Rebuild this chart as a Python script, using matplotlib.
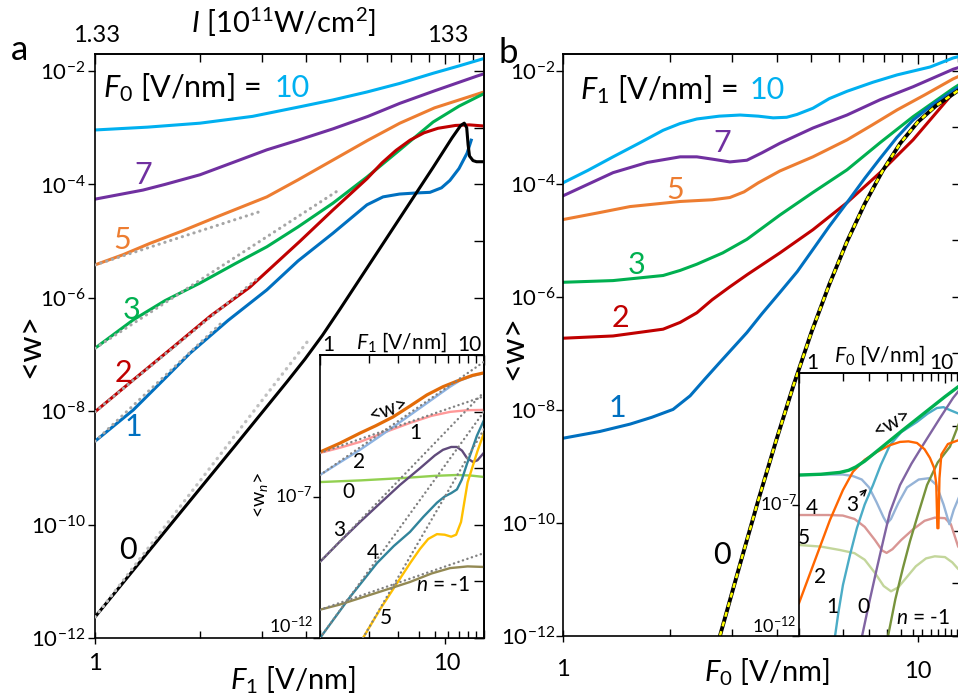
import numpy as np
import matplotlib
matplotlib.use("Agg")
import matplotlib.pyplot as plt
from matplotlib.ticker import FixedLocator, NullLocator, NullFormatter

plt.rcParams['font.family'] = ['Lato', 'DejaVu Sans']
plt.rcParams['mathtext.fontset'] = 'custom'
plt.rcParams['mathtext.rm'] = 'Lato'
plt.rcParams['mathtext.it'] = 'Lato:italic'
plt.rcParams['mathtext.bf'] = 'Lato:bold'

W, H = 958, 700

# ---------------- panel a: <w> vs F1, one curve per F0 (log10 values) ----------
a10_x = [0, 0.15, 0.3, 0.45, 0.586, 0.68, 0.777, 0.87, 0.966, 1.04, 1.111]
a10_y = [-3.04, -2.99, -2.92, -2.8, -2.63, -2.51, -2.37, -2.22, -2.04, -1.91, -1.78]
a7_x = [0, 0.06, 0.137, 0.2, 0.3, 0.4, 0.491, 0.58, 0.68, 0.78, 0.871, 0.97, 1.091, 1.111]
a7_y = [-4.26, -4.19, -4.10, -4.0, -3.83, -3.6, -3.39, -3.22, -3.02, -2.8, -2.57, -2.35, -2.09, -2.05]
a5_x = [0, 0.08, 0.157, 0.25, 0.349, 0.491, 0.58, 0.68, 0.78, 0.871, 0.97, 1.091, 1.111]
a5_y = [-5.42, -5.24, -5.04, -4.82, -4.57, -4.22, -3.92, -3.57, -3.22, -2.92, -2.65, -2.41, -2.37]
a3_x = [0, 0.109, 0.2, 0.3, 0.4, 0.491, 0.58, 0.68, 0.777, 0.871, 0.966, 1.04, 1.111]
a3_y = [-6.89, -6.39, -6.05, -5.74, -5.40, -5.10, -4.75, -4.33, -3.87, -3.39, -2.90, -2.62, -2.40]
a2_x = [0, 0.109, 0.223, 0.33, 0.443, 0.586, 0.68, 0.777, 0.82, 0.86, 0.9, 0.94, 0.98, 1.03,
        1.07, 1.111]
a2_y = [-8.01, -7.45, -6.87, -6.32, -5.81, -5.0, -4.45, -3.90, -3.62, -3.40, -3.22, -3.09, -3.01,
        -2.96, -2.95, -2.97]
a1_x = [0, 0.109, 0.2, 0.271, 0.38, 0.491, 0.58, 0.68, 0.777, 0.823, 0.87, 0.92, 0.957, 0.99,
        1.014, 1.04, 1.063, 1.075]
a1_y = [-8.53, -7.98, -7.42, -6.98, -6.4, -5.86, -5.35, -4.86, -4.36, -4.22, -4.17, -4.15, -4.14,
        -4.06, -3.93, -3.72, -3.45, -3.22]
a0_x = [0, 0.2, 0.4, 0.5, 0.55, 0.6, 0.65, 0.7, 0.75, 0.8, 0.9, 0.966, 1.02, 1.045, 1.055, 1.062,
        1.066, 1.07, 1.08, 1.09, 1.1, 1.111]
a0_y = [-11.63, -10.12, -8.61, -7.85, -7.47, -7.08, -6.66, -6.2, -5.73, -5.26, -4.32, -3.70, -3.18,
        -2.96, -2.92, -3.0, -3.3, -3.5, -3.58, -3.6, -3.6, -3.6]
# perturbative asymptotes (gray dotted), end points
a_dot_x = [[0, 0.466], [0, 0.694], [0, 0.466], [0, 0.36]]
a_dot_y = [[-5.42, -4.49], [-6.89, -4.11], [-8.01, -5.65], [-8.53, -6.45]]
a_dot0_x = [0, 0.606]
a_dot0_y = [-11.63, -6.78]

# ---------------- panel b: <w> vs F0, one curve per F1 ----------------------------
b10_x = [0, 0.07, 0.141, 0.217, 0.282, 0.33, 0.377, 0.44, 0.499, 0.55, 0.592, 0.63, 0.659,
         0.704, 0.75, 0.8, 0.873, 0.941, 1.034, 1.099, 1.124]
b10_y = [-3.98, -3.76, -3.52, -3.27, -3.05, -2.93, -2.85, -2.80, -2.78, -2.80, -2.83, -2.82,
         -2.77, -2.66, -2.49, -2.36, -2.20, -2.07, -1.93, -1.77, -1.73]
b7_x = [0, 0.141, 0.237, 0.33, 0.377, 0.42, 0.47, 0.518, 0.56, 0.611, 0.704, 0.8, 0.893, 0.986,
        1.099, 1.124]
b7_y = [-4.21, -3.80, -3.62, -3.52, -3.52, -3.56, -3.61, -3.58, -3.45, -3.28, -3.01, -2.78, -2.51,
        -2.28, -1.97, -1.92]
b5_x = [0, 0.1, 0.189, 0.33, 0.42, 0.47, 0.51, 0.55, 0.611, 0.704, 0.8, 0.87, 0.941, 1.02, 1.099, 1.124]
b5_y = [-4.63, -4.51, -4.40, -4.31, -4.28, -4.24, -4.14, -3.98, -3.77, -3.52, -3.22, -2.96, -2.69,
        -2.42, -2.14, -2.07]
b3_x = [0, 0.141, 0.282, 0.33, 0.377, 0.45, 0.518, 0.611, 0.704, 0.8, 0.893, 0.986, 1.099, 1.124]
b3_y = [-5.74, -5.71, -5.62, -5.53, -5.42, -5.22, -4.98, -4.55, -4.15, -3.75, -3.27, -2.81, -2.31, -2.21]
b2_x = [0, 0.141, 0.282, 0.33, 0.377, 0.42, 0.47, 0.52, 0.611, 0.704, 0.8, 0.893, 0.986, 1.099, 1.124]
b2_y = [-6.73, -6.69, -6.57, -6.45, -6.28, -6.05, -5.82, -5.6, -5.22, -4.81, -4.33, -3.80, -3.22,
        -2.39, -2.25]
b1_x = [0, 0.104, 0.189, 0.25, 0.31, 0.358, 0.4, 0.44, 0.479, 0.518, 0.56, 0.611, 0.66, 0.704,
        0.75, 0.8, 0.85, 0.893, 0.94, 0.986, 1.04, 1.09, 1.124]
b1_y = [-8.50, -8.38, -8.25, -8.13, -7.99, -7.75, -7.45, -7.17, -6.9, -6.63, -6.3, -5.92, -5.55,
        -5.16, -4.75, -4.33, -3.9, -3.55, -3.18, -2.87, -2.6, -2.39, -2.25]
b0_x = [0.442, 0.5, 0.55, 0.6, 0.65, 0.7, 0.75, 0.8, 0.85, 0.9, 0.95, 1.0, 1.05, 1.124]
b0_y = [-12, -10.7, -9.6, -8.55, -7.55, -6.62, -5.78, -5.02, -4.35, -3.77, -3.28, -2.9, -2.62, -2.3]

# ---------------- inset a: components <w_n> vs F1 (F0 = 5) ----------------------
ia_w_x = [0, 0.12, 0.244, 0.34, 0.445, 0.55, 0.652, 0.75, 0.854, 0.93, 1.0]
ia_w_y = [-5.43, -5.12, -4.76, -4.5, -4.19, -3.8, -3.41, -3.12, -2.88, -2.72, -2.63]
ia1_x = [0, 0.12, 0.244, 0.4, 0.549, 0.68, 0.793, 0.9, 1.0]
ia1_y = [-5.46, -5.28, -5.07, -4.72, -4.40, -4.15, -4.01, -3.95, -3.94]
ia2_x = [0, 0.12, 0.244, 0.345, 0.445, 0.55, 0.652, 0.72, 0.793, 0.854, 0.93, 1.0]
ia2_y = [-6.24, -5.8, -5.35, -4.95, -4.55, -4.12, -3.70, -3.42, -3.12, -2.9, -2.74, -2.64]
ia0_x = [0, 0.25, 0.5, 0.7, 0.834, 0.92, 1.0]
ia0_y = [-6.49, -6.43, -6.35, -6.27, -6.24, -6.26, -6.31]
ia3_x = [0, 0.12, 0.244, 0.37, 0.488, 0.61, 0.7, 0.75, 0.8, 0.835, 0.866, 0.896, 0.933, 0.96, 1.0]
ia3_y = [-9.31, -8.6, -7.90, -7.22, -6.59, -6.0, -5.55, -5.35, -5.25, -5.25, -5.38, -5.64, -5.78,
         -5.72, -5.45]
ia4_x = [0, 0.183, 0.348, 0.45, 0.549, 0.63, 0.713, 0.76, 0.8, 0.835, 0.865, 0.896, 0.93, 0.957, 1.0]
ia4_y = [-12, -10.55, -9.35, -8.75, -8.25, -7.72, -7.22, -7.0, -6.88, -6.75, -6.4, -5.85, -5.3,
         -4.85, -4.3]
ia5_x = [0.262, 0.37, 0.47, 0.55, 0.61, 0.66, 0.713, 0.76, 0.8, 0.83, 0.86, 0.88, 0.9, 0.93, 0.96, 1.0]
ia5_y = [-12, -10.95, -10.06, -9.35, -8.85, -8.5, -8.33, -8.35, -8.42, -8.35, -7.9, -7.2, -6.5,
         -5.95, -5.4, -4.75]
iam1_x = [0, 0.12, 0.244, 0.4, 0.549, 0.68, 0.793, 0.9, 1.0]
iam1_y = [-11.0, -10.82, -10.59, -10.3, -10.02, -9.72, -9.53, -9.47, -9.49]
ia_dot_x = [[0, 1], [0, 1], [0, 1], [0, 1], [0.262, 1], [0, 1]]
ia_dot_y = [[-5.46, -3.46], [-6.24, -2.24], [-9.31, -3.31], [-12, -4], [-12, -4.62], [-11, -9]]

# ---------------- inset b: components <w_n> vs F0 (F1 = 3) ----------------------
ib_w_x = [0, 0.15, 0.28, 0.34, 0.39, 0.45, 0.55, 0.7, 0.85, 1.0, 1.12]
ib_w_y = [-5.88, -5.85, -5.78, -5.7, -5.57, -5.35, -4.9, -4.22, -3.56, -2.9, -2.4]
ib2_x = [0, 0.11, 0.212, 0.301, 0.37, 0.45, 0.534, 0.62, 0.692, 0.75, 0.808, 0.86, 0.897, 0.925,
         0.94, 0.948, 0.955, 0.962, 0.975, 1.02, 1.12]
ib2_y = [-10.75, -9.11, -7.59, -6.45, -5.75, -5.3, -5.0, -4.75, -4.62, -4.6, -4.66, -4.9, -5.23,
         -5.6, -6.2, -7.9, -7.9, -6.0, -5.1, -4.7, -4.5]
ib3_x = [0, 0.2, 0.3, 0.37, 0.43, 0.48, 0.53, 0.58, 0.603, 0.63, 0.68, 0.74, 0.82, 0.89, 0.94,
         0.99, 1.03, 1.06, 1.12]
ib3_y = [-5.88, -5.86, -5.86, -5.92, -6.05, -6.35, -6.9, -7.5, -7.72, -7.55, -6.95, -6.35, -6.05,
         -6.0, -6.25, -7.0, -7.75, -7.2, -6.4]
ib4_x = [0, 0.2, 0.3, 0.38, 0.45, 0.52, 0.57, 0.6, 0.64, 0.7, 0.78, 0.86, 0.93, 1.0, 1.04, 1.09, 1.12]
ib4_y = [-7.40, -7.40, -7.42, -7.55, -7.85, -8.35, -8.75, -8.84, -8.7, -8.35, -7.95, -7.62, -7.5,
         -7.52, -7.75, -8.6, -8.8]
ib5_x = [0, 0.15, 0.28, 0.38, 0.45, 0.52, 0.58, 0.63, 0.68, 0.74, 0.8, 0.87, 0.93, 1.0, 1.05, 1.09, 1.12]
ib5_y = [-8.54, -8.6, -8.73, -8.85, -9.1, -9.6, -10.1, -10.3, -10.15, -9.75, -9.35, -9.05, -8.97,
         -9.0, -9.2, -9.45, -9.55]
ib1_x = [0.247, 0.27, 0.301, 0.35, 0.397, 0.45, 0.507, 0.56, 0.623, 0.7, 0.808, 0.88, 0.945, 0.99,
         1.034, 1.082, 1.12]
ib1_y = [-12, -11.1, -10.06, -8.9, -7.89, -7.0, -6.26, -5.5, -4.74, -4.25, -3.86, -3.55, -3.33,
         -3.3, -3.41, -3.52, -3.6]
ib0_x = [0.432, 0.48, 0.534, 0.58, 0.623, 0.692, 0.77, 0.849, 0.966, 1.055, 1.12]
ib0_y = [-12, -10.75, -9.41, -8.3, -7.29, -6.26, -5.45, -4.74, -3.71, -2.95, -2.5]
ibm1_x = [0.61, 0.66, 0.712, 0.76, 0.808, 0.877, 0.95, 1.034, 1.09, 1.12]
ibm1_y = [-12, -10.6, -9.41, -8.4, -7.51, -6.26, -5.4, -4.8, -4.0, -3.6]

C = dict(cyan='#00b0f0', purple='#7030a0', orange='#ed7d31', green='#00b050',
         red='#c00000', blue='#0070c0')


def rect(l, r, t, b):
    return [l / W, 1 - b / H, (r - l) / W, (b - t) / H]


def ftext(x, y, s, **kw):
    kw.setdefault('ha', 'center')
    kw.setdefault('va', 'center')
    fig.text(x / W, 1 - y / H, s, **kw)


def curve(ax, lx, ly, **kw):
    ax.plot(10.0 ** np.asarray(lx), 10.0 ** np.asarray(ly), solid_joinstyle='round', **kw)


def dotted(ax, lx, ly, color, lw):
    ax.plot(10.0 ** np.asarray(lx), 10.0 ** np.asarray(ly), color=color, lw=lw,
            linestyle=(0, (0.1, 1.9)), dash_capstyle='round', zorder=5)


def style_axes(ax, xmax, ymin, ymax, left_ticks, right_ticks, minor_x, ylab_pad, ylabels):
    ax.set_xscale('log')
    ax.set_yscale('log')
    ax.set_xlim(1, xmax)
    ax.set_ylim(ymin, ymax)
    for s in ax.spines.values():
        s.set_linewidth(1.2)
    ax.set_xticks([1, 10])
    ax.xaxis.set_major_formatter(NullFormatter())
    ax.xaxis.set_minor_locator(FixedLocator(minor_x))
    ax.xaxis.set_minor_formatter(NullFormatter())
    if ylabels:
        ax.set_yticks(left_ticks, labels=ylabels)
    else:
        ax.set_yticks(left_ticks)
        ax.yaxis.set_major_formatter(NullFormatter())
    ax.yaxis.set_minor_locator(NullLocator())
    ax.tick_params(axis='x', which='major', direction='inout', length=8, width=1)
    ax.tick_params(axis='x', which='minor', direction='in', length=5, width=1)
    ax.tick_params(axis='y', which='major', direction='out', length=5, width=1,
                   pad=ylab_pad, labelsize=16)
    top = ax.secondary_xaxis('top')
    top.set_ticks([1, 10])
    top.xaxis.set_major_formatter(NullFormatter())
    top.xaxis.set_minor_locator(FixedLocator(minor_x))
    top.xaxis.set_minor_formatter(NullFormatter())
    top.tick_params(which='major', direction='in', length=7, width=1)
    top.tick_params(which='minor', direction='in', length=6, width=1)
    top.spines['top'].set_linewidth(1.2)
    rt = ax.secondary_yaxis('right')
    rt.set_ticks(right_ticks)
    rt.yaxis.set_major_formatter(NullFormatter())
    rt.yaxis.set_minor_locator(NullLocator())
    rt.tick_params(which='major', direction='in', length=7, width=1)
    rt.spines['right'].set_linewidth(1.2)


fig = plt.figure(figsize=(W / 100, H / 100), dpi=100)
fig.patch.set_facecolor('white')

minor_main = [2, 3, 4, 5, 6, 7, 8, 9, 11, 12, 13]
ylab_ticks = [10.0 ** k for k in range(-12, -1, 2)]
ylab_text = [r'$10^{%d}$' % k for k in range(-12, -1, 2)]
all_dec = [10.0 ** k for k in range(-12, -1)]

# ---------------- panel a ----------------
axA = fig.add_axes(rect(95, 484, 54, 638))
style_axes(axA, 10 ** (389 / 350), 1e-12, 10 ** -1.70, ylab_ticks, all_dec, minor_main, 2, ylab_text)
lw = 2.2
curve(axA, a10_x, a10_y, color=C['cyan'], lw=lw)
curve(axA, a7_x, a7_y, color=C['purple'], lw=lw)
curve(axA, a5_x, a5_y, color=C['orange'], lw=lw)
curve(axA, a3_x, a3_y, color=C['green'], lw=lw)
curve(axA, a2_x, a2_y, color=C['red'], lw=lw)
curve(axA, a1_x, a1_y, color=C['blue'], lw=lw)
curve(axA, a0_x, a0_y, color='black', lw=lw)
for dx, dy in zip(a_dot_x, a_dot_y):
    dotted(axA, dx, dy, '#a6a6a6', 2.2)
dotted(axA, a_dot0_x, a_dot0_y, '#c0c0c0', 2.4)

# ---------------- panel b ----------------
axB = fig.add_axes(rect(563, 962, 54, 636))
style_axes(axB, 10 ** (399 / 355), 1e-12, 10 ** -1.70, ylab_ticks, all_dec, minor_main, 0.5, ylab_text)
curve(axB, b10_x, b10_y, color=C['cyan'], lw=lw)
curve(axB, b7_x, b7_y, color=C['purple'], lw=lw)
curve(axB, b5_x, b5_y, color=C['orange'], lw=lw)
curve(axB, b3_x, b3_y, color=C['green'], lw=lw)
curve(axB, b2_x, b2_y, color=C['red'], lw=lw)
curve(axB, b1_x, b1_y, color=C['blue'], lw=lw)
curve(axB, b0_x, b0_y, color='black', lw=2.8)
curve(axB, b0_x, b0_y, color='#ffff00', lw=1.8, linestyle=(0, (2, 2)))

# ---------------- inset a ----------------
minor_in = [2, 3, 4, 5, 6, 7, 8, 9, 11, 12, 13]
even_dec = [10.0 ** k for k in range(-12, -1, 2)]
insA = fig.add_axes(rect(320, 484, 355, 638))
insA.set_facecolor('white')
style_axes(insA, 10, 1e-12, 1e-2, [1e-12, 1e-7], even_dec, minor_in, 2, None)
insA.tick_params(axis='x', which='major', direction='in', length=6)
ilw = 1.7
curve(insA, ia1_x, ia1_y, color='#ff9999', lw=ilw)
curve(insA, ia2_x, ia2_y, color='#8db3e2', lw=ilw)
curve(insA, ia0_x, ia0_y, color='#92d050', lw=ilw)
curve(insA, ia3_x, ia3_y, color='#604a7b', lw=ilw)
curve(insA, ia4_x, ia4_y, color='#31849b', lw=ilw)
curve(insA, ia5_x, ia5_y, color='#ffc000', lw=ilw)
curve(insA, iam1_x, iam1_y, color='#938953', lw=ilw)
curve(insA, ia_w_x, ia_w_y, color='#e36c09', lw=2.3)
for dx, dy in zip(ia_dot_x, ia_dot_y):
    dotted(insA, dx, dy, '#808080', 1.7)

# ---------------- inset b ----------------
insB = fig.add_axes(rect(799, 962, 373, 636))
insB.set_facecolor('white')
style_axes(insB, 10 ** (163 / 146), 1e-12, 1e-2, [1e-12, 1e-7], even_dec, minor_in, 2, None)
insB.tick_params(axis='x', which='major', direction='in', length=6)
curve(insB, ib4_x, ib4_y, color='#d99694', lw=ilw)
curve(insB, ib5_x, ib5_y, color='#c3d69b', lw=ilw)
curve(insB, ib3_x, ib3_y, color='#95b3d7', lw=ilw)
curve(insB, ib1_x, ib1_y, color='#4bacc6', lw=ilw)
curve(insB, ib0_x, ib0_y, color='#8064a2', lw=ilw)
curve(insB, ibm1_x, ibm1_y, color='#77933c', lw=ilw)
curve(insB, ib2_x, ib2_y, color='#ff6600', lw=ilw)
curve(insB, ib_w_x, ib_w_y, color='#00b050', lw=2.4)

# ---------------- texts ----------------
fs_lab = 22
ftext(20, 50, 'a', fontsize=25)
ftext(508, 53, 'b', fontsize=25)
ftext(283, 22, r'$I$ [10$^{11}$W/cm$^{2}$]', fontsize=21)
ftext(97, 35, '1.33', fontsize=17)
ftext(448, 35, '133', fontsize=17)
ftext(95, 663, '1', fontsize=17)
ftext(447, 663, '10', fontsize=17)
ftext(563, 670, '1', fontsize=17)
ftext(918, 671, '10', fontsize=17)
ftext(293, 680, r'$F_{\mathit{1}}$ [V/nm]', fontsize=21)
ftext(767, 672, r'$F_{\mathit{0}}$ [V/nm]', fontsize=21)
ftext(30, 346, '<w>', fontsize=24, rotation=90)
ftext(513, 347, '<w>', fontsize=24, rotation=90)

ftext(103, 88, r'$F_{\mathit{0}}$ [V/nm] = ', fontsize=fs_lab, ha='left')
ftext(275, 88, '10', fontsize=fs_lab, ha='left', color=C['cyan'])
ftext(580, 90, r'$F_{\mathit{1}}$ [V/nm] = ', fontsize=fs_lab, ha='left')
ftext(750, 90, '10', fontsize=fs_lab, ha='left', color=C['cyan'])

for (x, y, s, c) in [(143, 175, '7', 'purple'), (122, 240, '5', 'orange'), (132, 310, '3', 'green'),
                     (123, 373, '2', 'red'), (133, 427, '1', 'blue'), (128, 550, '0', None),
                     (722, 143, '7', 'purple'), (675, 190, '5', 'orange'), (637, 265, '3', 'green'),
                     (620, 318, '2', 'red'), (617, 408, '1', 'blue'), (722, 555, '0', None)]:
    ftext(x, y, s, fontsize=fs_lab, color=C[c] if c else 'black')

fs_in = 15
# inset a labels
ftext(401, 342, r'$F_{\mathit{1}}$ [V/nm]', fontsize=fs_in)
ftext(328, 345, '1', fontsize=fs_in)
ftext(469, 345, '10', fontsize=fs_in)
ftext(312, 496, r'$10^{-7}$', fontsize=13, ha='right')
ftext(313, 625, r'$10^{-12}$', fontsize=13, ha='right')
ftext(261, 495, r'<w$_{n}$>', fontsize=14, rotation=90)
ftext(388, 409, '<w>', fontsize=fs_in, rotation=20)
for (x, y, s) in [(415, 433, '1'), (359, 462, '2'), (348, 492, '0'), (339, 530, '3'),
                  (373, 553, '4'), (386, 618, '5')]:
    ftext(x, y, s, fontsize=fs_in)
ftext(443, 585, r'$n$ = -1', fontsize=fs_in)

# inset b labels
ftext(879, 355, r'$F_{\mathit{0}}$ [V/nm]', fontsize=fs_in)
ftext(812, 363, '1', fontsize=fs_in)
ftext(941, 363, '10', fontsize=fs_in)
ftext(797, 503, r'$10^{-7}$', fontsize=13, ha='right')
ftext(796, 625, r'$10^{-12}$', fontsize=13, ha='right')
ftext(892, 423, '<w>', fontsize=fs_in, rotation=30)
for (x, y, s) in [(852, 505, '3'), (812, 508, '4'), (804, 538, '5'), (820, 577, '2'),
                  (832, 607, '1'), (863, 607, '0')]:
    ftext(x, y, s, fontsize=fs_in)
ftext(923, 618, r'$n$ = -1', fontsize=fs_in)

ax_ann = fig.add_axes([0, 0, 1, 1], facecolor='none')
ax_ann.set_axis_off()
ax_ann.set_xlim(0, W)
ax_ann.set_ylim(H, 0)
ax_ann.annotate('', xy=(869, 487), xytext=(859, 497),
                arrowprops=dict(arrowstyle='->', lw=1, color='black'))

fig.savefig('out.png', dpi=100)
